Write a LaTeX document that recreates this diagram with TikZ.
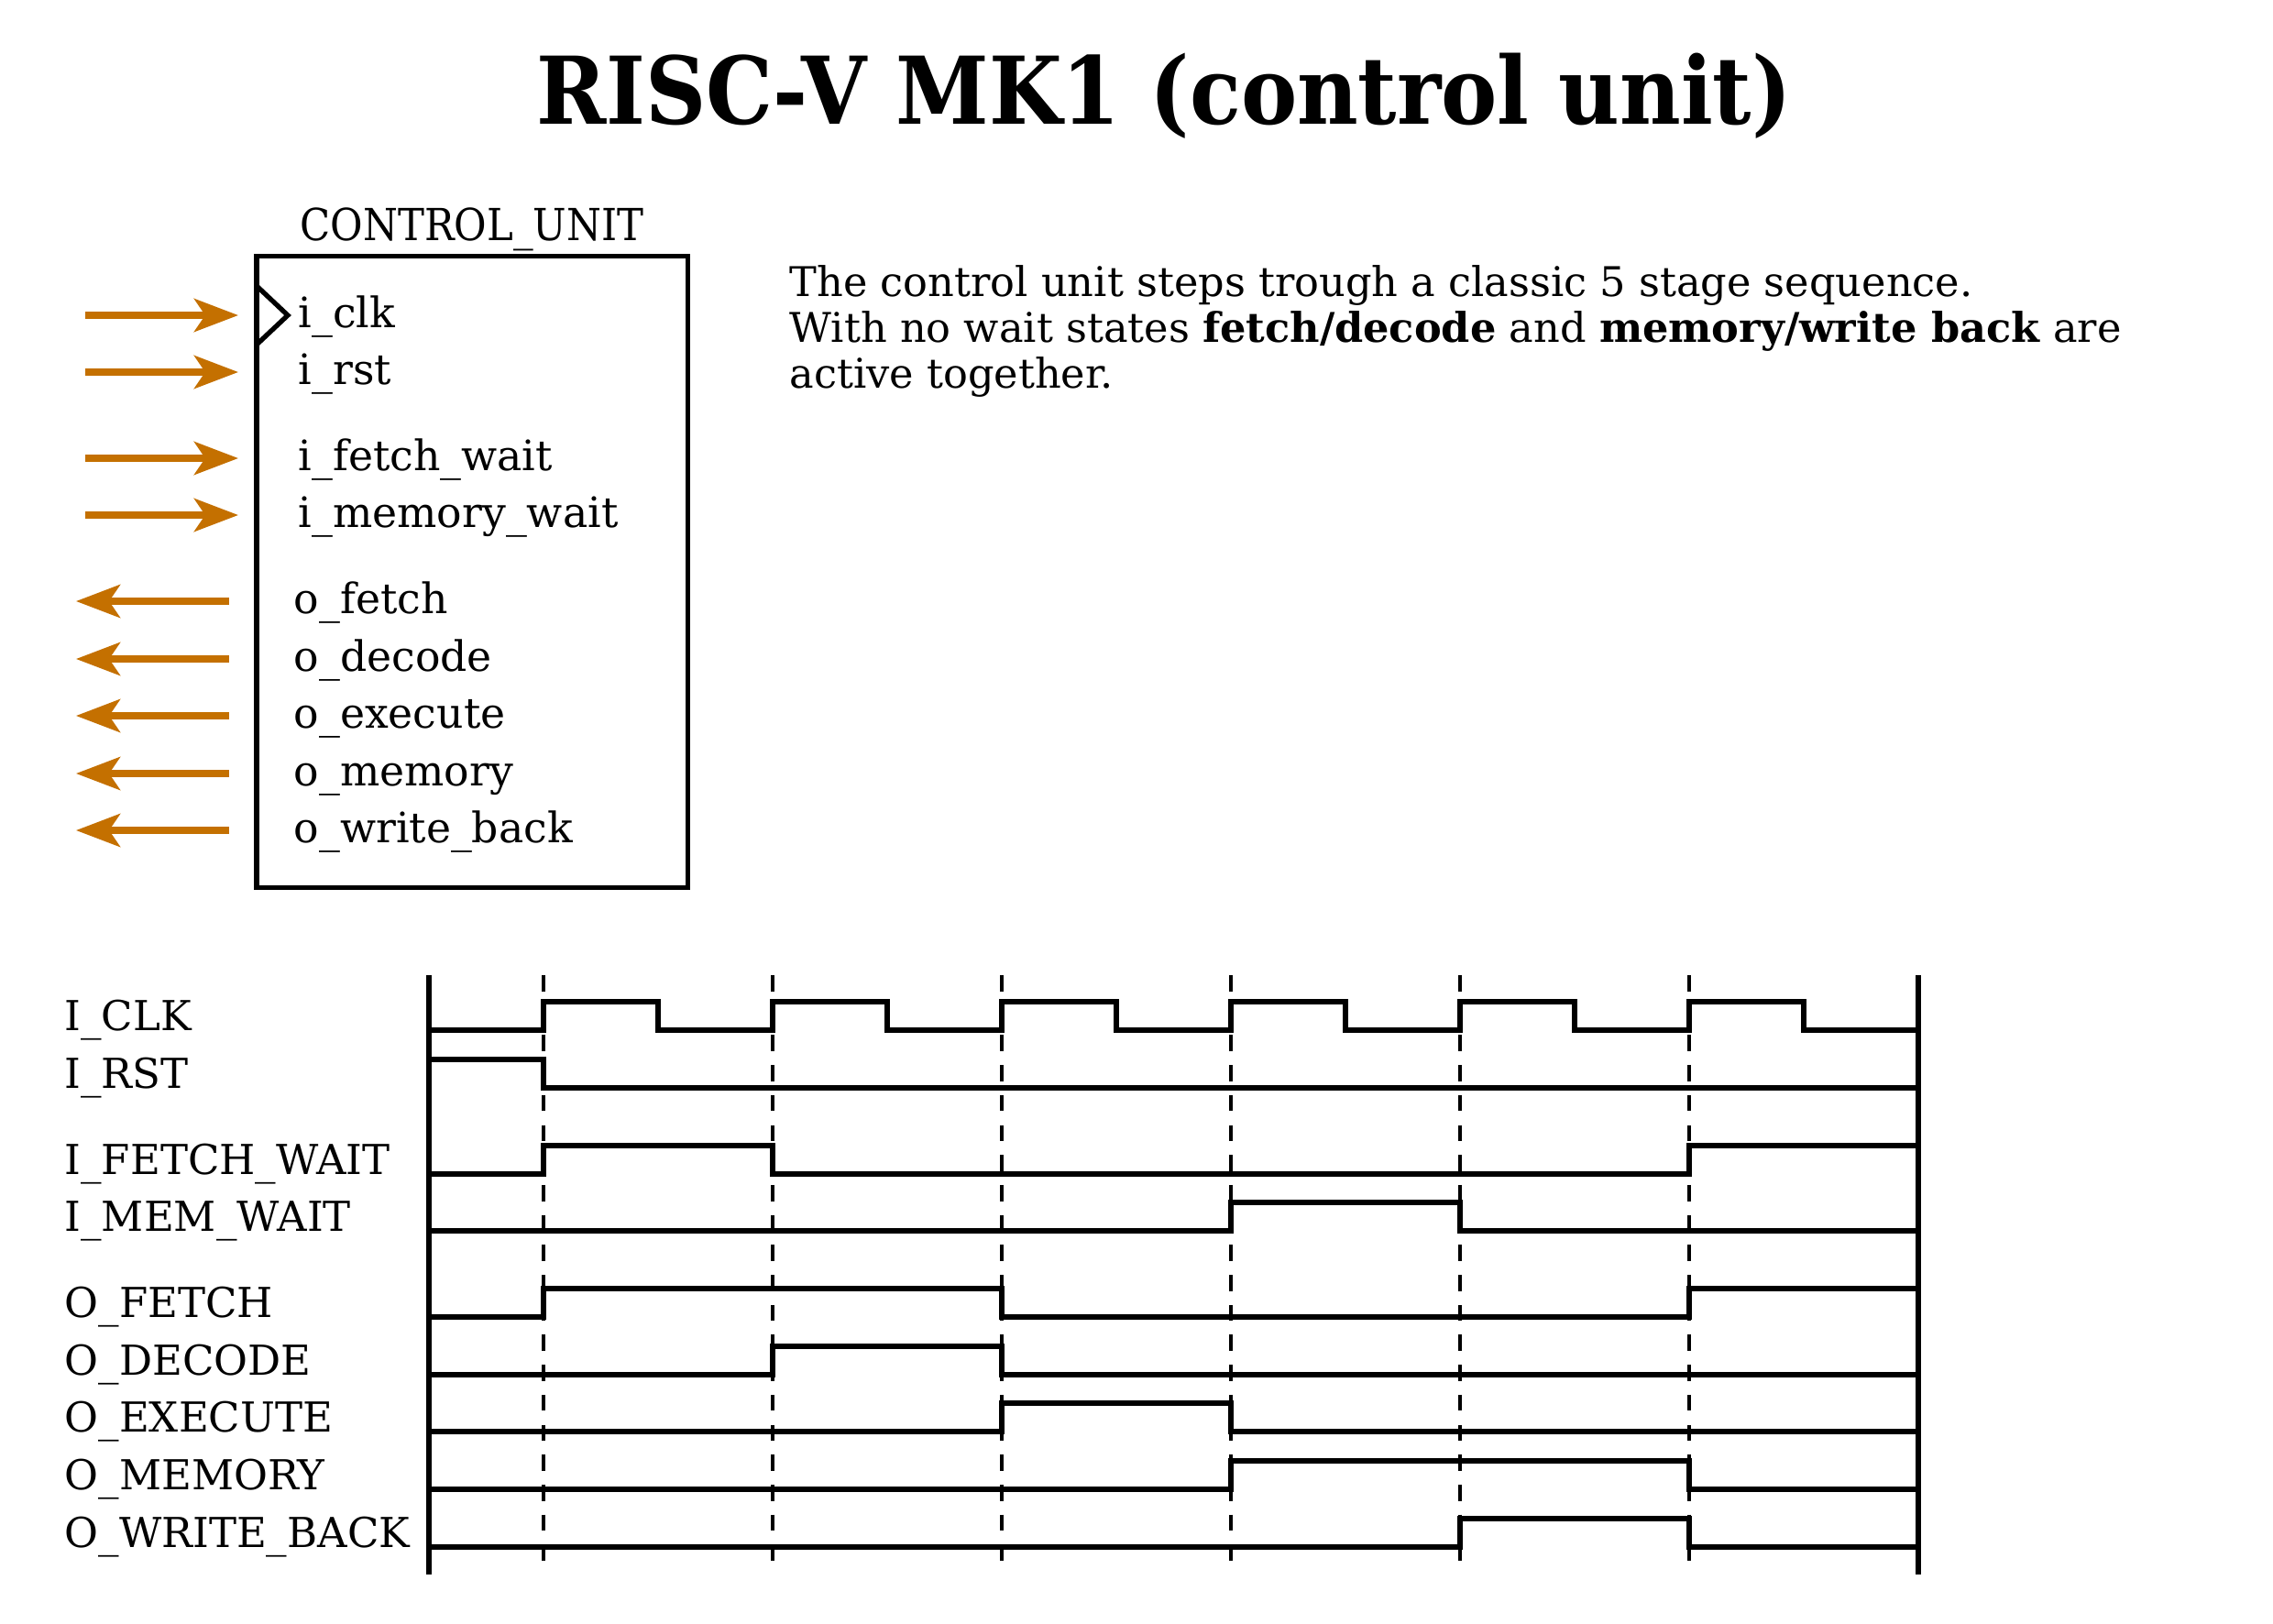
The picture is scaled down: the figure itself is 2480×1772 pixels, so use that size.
\documentclass[tikz,border=0pt]{standalone}
\usepackage{fontspec}
\setmainfont{DejaVu Serif}
\newfontfamily\condensedfont{DejaVu Serif Condensed}
\usepackage{tikz}
\usetikzlibrary{arrows.meta,positioning}

\definecolor{portorange}{RGB}{196,112,0}

\tikzset{
  blockbox/.style={draw, line width=1.5pt, minimum width=4.7cm, minimum height=6.88cm, inner sep=0pt},
  portlbl/.style={anchor=west, inner sep=0pt, text height=10pt, text depth=2.6pt, font=\fontsize{13}{15}\selectfont},
  siglbl/.style={anchor=base west, inner sep=0pt, font=\fontsize{12.8}{14}\selectfont},
  inarrow/.style={portorange, line width=2pt, -{Stealth[length=0.48cm,width=0.36cm,inset=0.12cm]}, shorten >=0.65cm},
  outarrow/.style={portorange, line width=2pt, -{Stealth[length=0.48cm,width=0.36cm,inset=0.12cm]}, shorten <=0.7cm},
  wave/.style={line width=1.5pt},
  axisline/.style={line width=1.6pt},
  gridline/.style={dash pattern=on 5pt off 4.3pt, line width=0.9pt}
}

\begin{document}
\begin{tikzpicture}[x=0.01cm, y=-0.01cm]
  \useasboundingbox (0,0) rectangle (2480,1772);

  \node[font=\condensedfont\bfseries\fontsize{29}{34}\selectfont] (title) at (1270,105) {RISC-V MK1 (control unit)};

  % control unit block
  \node[blockbox] (cu) at (515,624) {};
  \node[anchor=base, inner sep=0pt, font=\condensedfont\fontsize{13.7}{16}\selectfont] (cu-name) at ([yshift=0.15cm]cu.north) {CONTROL\_UNIT};
  \draw[line width=1.5pt] (280,312) -- (314,344) -- (280,376);

  \node[portlbl] (p-clk) at (325,344) {i\_clk};
  \node[portlbl] (p-rst) at (325,406) {i\_rst};
  \node[portlbl] (p-fwait) at (325,500) {i\_fetch\_wait};
  \node[portlbl] (p-mwait) at (325,562) {i\_memory\_wait};
  \node[portlbl] (p-fetch) at (320,656) {o\_fetch};
  \node[portlbl] (p-decode) at (320,719) {o\_decode};
  \node[portlbl] (p-execute) at (320,781) {o\_execute};
  \node[portlbl] (p-memory) at (320,844) {o\_memory};
  \node[portlbl] (p-wb) at (320,906) {o\_write\_back};

  \coordinate (s-clk) at (93,344);
  \coordinate (s-rst) at (93,406);
  \coordinate (s-fwait) at (93,500);
  \coordinate (s-mwait) at (93,562);
  \coordinate (d-fetch) at (83,656);
  \coordinate (d-decode) at (83,719);
  \coordinate (d-execute) at (83,781);
  \coordinate (d-memory) at (83,844);
  \coordinate (d-wb) at (83,906);

  \draw[inarrow] (s-clk) -- (p-clk);
  \draw[inarrow] (s-rst) -- (p-rst);
  \draw[inarrow] (s-fwait) -- (p-fwait);
  \draw[inarrow] (s-mwait) -- (p-mwait);
  \draw[outarrow] (p-fetch) -- (d-fetch);
  \draw[outarrow] (p-decode) -- (d-decode);
  \draw[outarrow] (p-execute) -- (d-execute);
  \draw[outarrow] (p-memory) -- (d-memory);
  \draw[outarrow] (p-wb) -- (d-wb);

  \node[anchor=north west, inner sep=0pt, align=left, font=\fontsize{12.7}{14.2}\selectfont] (desc) at (861,289)
    {The control unit steps trough a classic 5 stage sequence.\\
     With no wait states \textbf{fetch/decode} and \textbf{memory/write back} are\\
     active together.};

  % timing diagram
  \node[siglbl] (t-clk) at (70,1124) {I\_CLK};
  \node[siglbl] (t-rst) at (70,1187) {I\_RST};
  \node[siglbl] (t-fwait) at (70,1281) {I\_FETCH\_WAIT};
  \node[siglbl] (t-mwait) at (70,1343) {I\_MEM\_WAIT};
  \node[siglbl] (t-fetch) at (70,1437) {O\_FETCH};
  \node[siglbl] (t-decode) at (70,1500) {O\_DECODE};
  \node[siglbl] (t-execute) at (70,1562) {O\_EXECUTE};
  \node[siglbl] (t-memory) at (70,1625) {O\_MEMORY};
  \node[siglbl] (t-wb) at (70,1688) {O\_WRITE\_BACK};

  \draw[axisline] (468,1064) -- (468,1718);
  \draw[axisline] (2093,1064) -- (2093,1718);
  \foreach \t in {593,843,...,1843}
    \draw[gridline] (\t,1064) -- (\t,1718);

  \draw[wave] (468,1124) \foreach \t in {593,843,...,1843} {
      -- (\t,1124) -- (\t,1093) -- ({\t+125},1093) -- ({\t+125},1124) } -- (2093,1124);
  \draw[wave] (468,1156) -- (593,1156) -- (593,1187) -- (2093,1187);
  \draw[wave] (468,1281) -- (593,1281) -- (593,1250) -- (843,1250) -- (843,1281)
    -- (1843,1281) -- (1843,1250) -- (2093,1250);
  \draw[wave] (468,1343) -- (1343,1343) -- (1343,1312) -- (1593,1312) -- (1593,1343) -- (2093,1343);
  \draw[wave] (468,1437) -- (593,1437) -- (593,1406) -- (1093,1406) -- (1093,1437)
    -- (1843,1437) -- (1843,1406) -- (2093,1406);
  \draw[wave] (468,1500) -- (843,1500) -- (843,1469) -- (1093,1469) -- (1093,1500) -- (2093,1500);
  \draw[wave] (468,1562) -- (1093,1562) -- (1093,1531) -- (1343,1531) -- (1343,1562) -- (2093,1562);
  \draw[wave] (468,1625) -- (1343,1625) -- (1343,1594) -- (1843,1594) -- (1843,1625) -- (2093,1625);
  \draw[wave] (468,1688) -- (1593,1688) -- (1593,1657) -- (1843,1657) -- (1843,1688) -- (2093,1688);
\end{tikzpicture}
\end{document}
